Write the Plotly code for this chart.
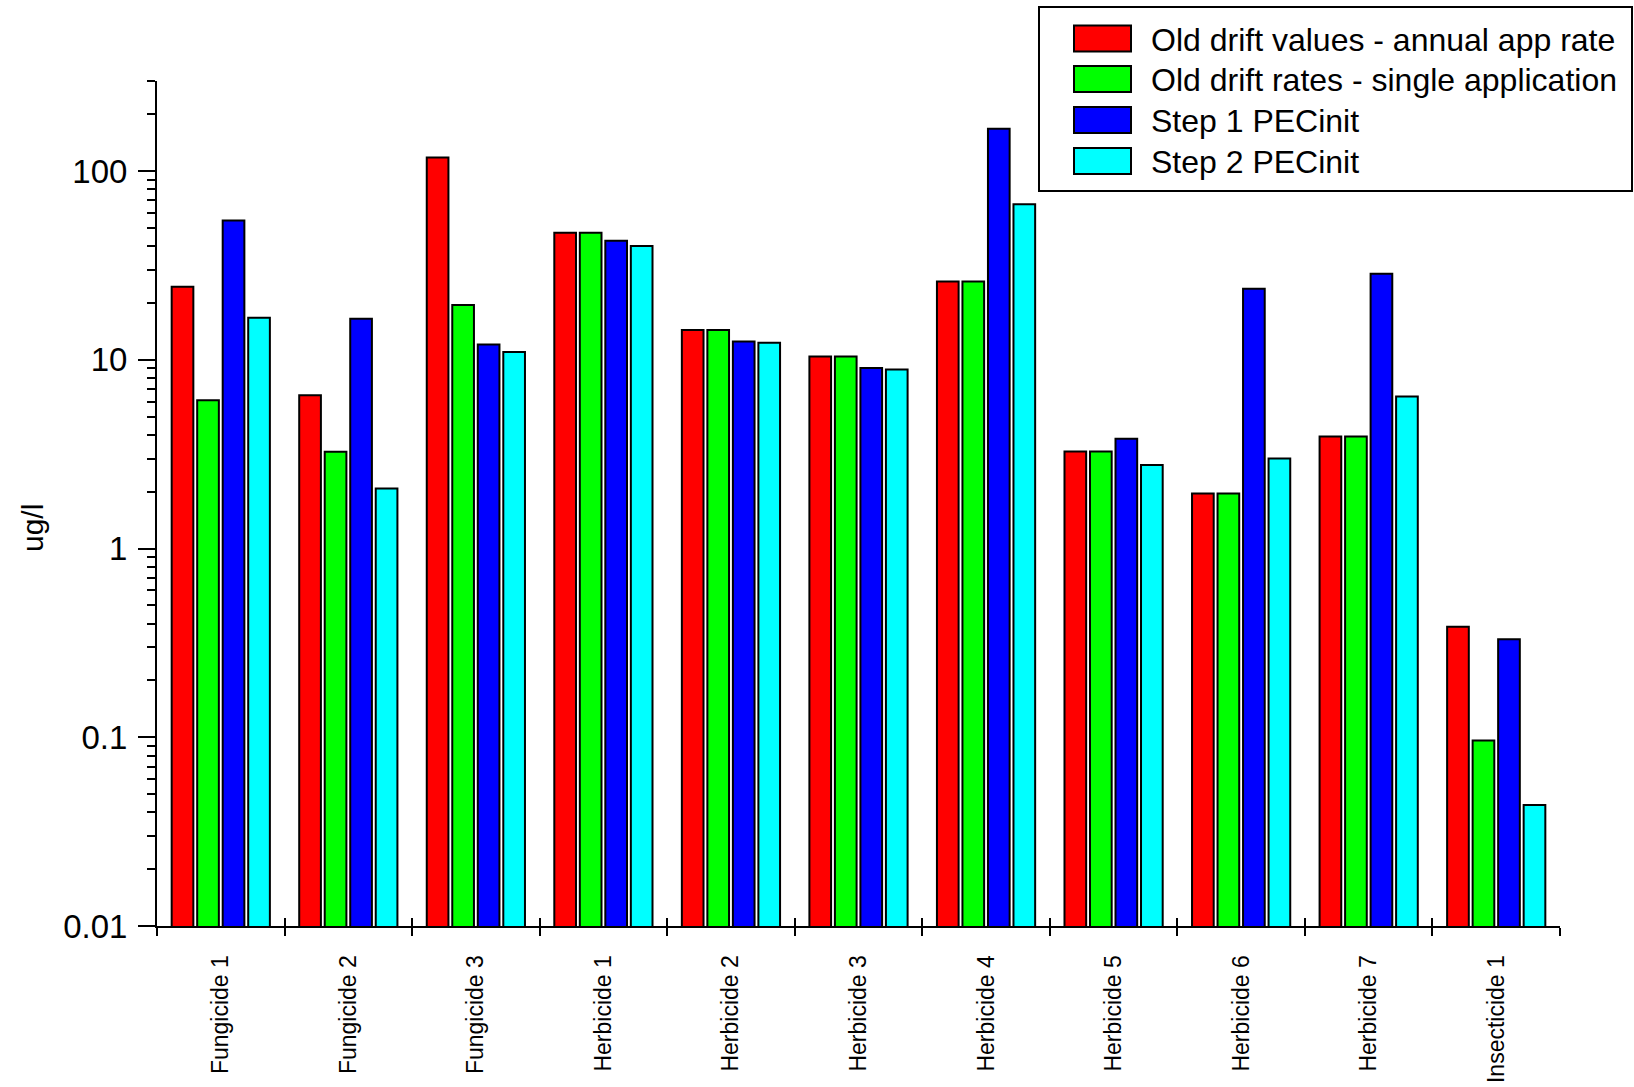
import plotly.graph_objects as go

# Concentrations (ug/l) per active substance
categories = ["Fungicide 1", "Fungicide 2", "Fungicide 3", "Herbicide 1", "Herbicide 2",
              "Herbicide 3", "Herbicide 4", "Herbicide 5", "Herbicide 6", "Herbicide 7",
              "Insecticide 1"]
old_annual = [24.4, 6.5, 118, 47.2, 14.4, 10.4, 26.0, 3.27, 1.96, 3.93, 0.385]
old_single = [6.1, 3.26, 19.5, 47.2, 14.4, 10.4, 26.0, 3.27, 1.96, 3.93, 0.096]
step1_pec = [54.8, 16.5, 12.05, 42.8, 12.5, 9.04, 167.5, 3.82, 23.8, 28.6, 0.331]
step2_pec = [16.7, 2.08, 11.0, 40.1, 12.3, 8.89, 66.7, 2.77, 3.0, 6.4, 0.0438]

series_names = ["Old drift values - annual app rate",
                "Old drift rates - single application",
                "Step 1 PECinit", "Step 2 PECinit"]
series_values = [old_annual, old_single, step1_pec, step2_pec]
series_colors = ["#FF0000", "#00FF00", "#0000FF", "#00FFFF"]

y_tickvals = [0.01, 0.1, 1, 10, 100]
y_ticktext = ["0.01", "0.1", "1", "10", "100"]

FONT = "Liberation Sans, Arial, sans-serif"
W, H = 1634, 1087
L, R, T, B = 157, 74, 81, 161

fig = go.Figure()
for name, vals, col in zip(series_names, series_values, series_colors):
    fig.add_trace(go.Bar(
        x=categories, y=vals, name=name,
        marker=dict(color=col, line=dict(color="black", width=2)),
        showlegend=False,
    ))

# helper trace carrying the categories for the inner tick marks axis
fig.add_trace(go.Scatter(x=categories, y=old_annual, xaxis="x2", yaxis="y",
                         mode="markers", marker=dict(opacity=0),
                         hoverinfo="skip", showlegend=False))

# pixel -> paper conversion for the hand-built legend
pw, ph = W - L - R, H - T - B
def px(x):
    return (x - L) / pw
def py(y):
    return (H - B - y) / ph

shapes = [dict(type="rect", xref="paper", yref="paper",
               x0=px(1039), x1=px(1632), y0=py(191), y1=py(7),
               line=dict(color="black", width=2), fillcolor="white", layer="above")]
annotations = []
row_centers = [38.5, 79, 120, 161]
for name, col, yc in zip(series_names, series_colors, row_centers):
    shapes.append(dict(type="rect", xref="paper", yref="paper",
                       x0=px(1074), x1=px(1131), y0=py(yc + 13), y1=py(yc - 13),
                       line=dict(color="black", width=2), fillcolor=col, layer="above"))
    annotations.append(dict(xref="paper", yref="paper", x=px(1149), y=py(yc + 1),
                            xanchor="left", yanchor="middle", showarrow=False,
                            text=name, font=dict(family=FONT, size=32, color="black")))

annotations.append(dict(xref="paper", yref="paper", x=px(32), y=py(528),
                        xanchor="center", yanchor="middle", showarrow=False,
                        textangle=-90, text="ug/l",
                        font=dict(family=FONT, size=30, color="black")))

fig.update_layout(
    width=W, height=H,
    margin=dict(l=L, r=R, t=T, b=B, pad=0, autoexpand=False),
    paper_bgcolor="white", plot_bgcolor="white",
    barmode="group", bargap=0.2, bargroupgap=0.15,
    font=dict(family=FONT, color="black"),
    xaxis=dict(type="category", categoryorder="array", categoryarray=categories,
               range=[-0.5, 10.5], showline=True, linecolor="black", linewidth=2,
               ticks="outside", ticklen=8, tickwidth=2, tickcolor="black",
               tickson="boundaries", tickangle=-90, ticklabelstandoff=18,
               tickfont=dict(family=FONT, size=23, color="black"),
               showgrid=False, zeroline=False, automargin=False),
    xaxis2=dict(type="category", categoryorder="array", categoryarray=categories,
                overlaying="x", anchor="y", side="bottom", range=[-0.5, 10.5],
                showline=False, ticks="inside", ticklen=8, tickwidth=2, tickcolor="black",
                tickson="boundaries", showticklabels=False, showgrid=False, zeroline=False,
                automargin=False),
    yaxis=dict(type="log", range=[-2, 2.4775], showline=True, linecolor="black", linewidth=2,
               tickmode="array", tickvals=y_tickvals, ticktext=y_ticktext,
               ticks="outside", ticklen=17, tickwidth=2, tickcolor="black",
               ticklabelstandoff=4,
               tickfont=dict(family=FONT, size=33, color="black"),
               minor=dict(ticks="outside", ticklen=8, tickwidth=2, tickcolor="black",
                          dtick="D1", showgrid=False),
               showgrid=False, zeroline=False, automargin=False),
    shapes=shapes, annotations=annotations,
    showlegend=False,
)

fig.write_html("out.html")
